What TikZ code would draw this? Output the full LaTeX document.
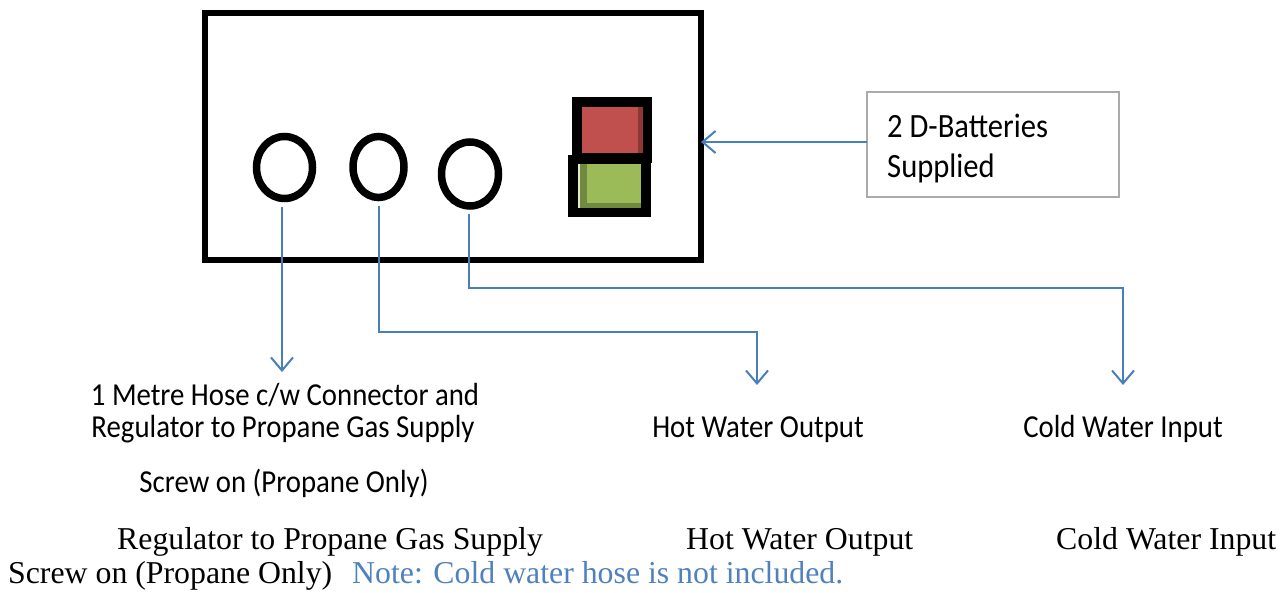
\documentclass[tikz,border=0pt]{standalone}
\usepackage{fontspec}
\newfontfamily\cali[FakeStretch=0.9]{Carlito}
\newfontfamily\tnr{Liberation Serif}
\usetikzlibrary{shapes.geometric,arrows.meta}
\definecolor{lineblue}{RGB}{74,126,187}
\definecolor{noteblue}{RGB}{79,129,189}
\definecolor{swred}{RGB}{192,80,77}
\definecolor{swreddark}{RGB}{140,56,54}
\definecolor{swgreen}{RGB}{155,187,89}
\definecolor{swgreendark}{RGB}{113,137,63}
\definecolor{boxgray}{RGB}{170,170,170}
\begin{document}
\begin{tikzpicture}[x=1pt,y=-1pt,
  mainbox/.style={draw=black,line width=6pt,inner sep=0pt,outer sep=0pt},
  port/.style={ellipse,draw=black,line width=7.5pt,inner sep=0pt,outer sep=0pt},
  swbox/.style={fill=black,inner sep=0pt,outer sep=0pt},
  batbox/.style={draw=boxgray,line width=1.5pt,inner sep=0pt,outer sep=0pt},
  arr/.style={draw=lineblue,line width=2pt,line join=miter,-{Straight Barb[length=13pt,width=22pt,line width=2pt]}},
  lbl/.style={font=\cali\fontsize{32}{36}\selectfont,inner sep=0pt,anchor=base},
  battxt/.style={font=\cali\fontsize{34}{38}\selectfont,inner sep=0pt,anchor=base west},
  tnrlbl/.style={font=\tnr\fontsize{31.8}{36}\selectfont,inner sep=0pt,anchor=base west}]
\useasboundingbox (0,0) rectangle (1285,592);

% main unit
\node[mainbox,minimum width=496.5pt,minimum height=247pt] (box) at (452.75,136.5) {};
\node[port,minimum width=56pt,minimum height=62pt] (c1) at (284.5,167.5) {};
\node[port,minimum width=51pt,minimum height=61pt] (c2) at (378.5,167) {};
\node[port,minimum width=57pt,minimum height=64pt] (c3) at (470,174) {};

% switch
\node[swbox,minimum width=80pt,minimum height=66pt] (swr) at (612,130) {};
\fill[swred] (582,107) rectangle (643,153);
\fill[swreddark] (638,107) rectangle (643,153);
\node[swbox,minimum width=83pt,minimum height=62pt] (swg) at (609.5,186) {};
\fill[swgreendark] (578,164) rectangle (641,208);
\fill[swgreen] (587,164) rectangle (641,203);
\fill[white!70!swgreen] (578,164) rectangle (580,208);

% battery box
\node[batbox,minimum width=252pt,minimum height=105pt] (bat) at (993,144.5) {};
\node[battxt] (b1) at (887,137) {2 D-Batteries};
\node[battxt] (b2) at (887,177) {Supplied};
\coordinate (bt) at ([yshift=2.5pt]bat.west);
\draw[arr] (bt) -- (bt -| box.east);

% connectors
\coordinate (tip1) at (282,372);
\coordinate (k2) at (379,332);
\coordinate (tip2) at (757,385);
\coordinate (k3) at (469,288);
\coordinate (tip3) at (1123,385);
\draw[arr,shorten <=8pt] (c1.south -| tip1) -- (tip1);
\draw[arr,shorten <=8pt] (c2.south -| k2) -- (k2) -| (tip2);
\draw[arr,shorten <=8pt] (c3.south -| k3) -- (k3) -| (tip3);

% labels
\node[lbl] (g1) at (285,405) {1 Metre Hose c/w Connector and};
\node[lbl] (g2) at (283,437) {Regulator to Propane Gas Supply};
\node[lbl] (g3) at (284,492) {Screw on (Propane Only)};
\node[lbl] (hw) at (758,437) {Hot Water Output};
\node[lbl] (cw) at (1123,437) {Cold Water Input};

% bottom text
\node[tnrlbl] (r1) at (117,549) {Regulator to Propane Gas Supply};
\node[tnrlbl] (r2) at (686,549) {Hot Water Output};
\node[tnrlbl] (r3) at (1056,549) {Cold Water Input};
\node[tnrlbl] (r4) at (8,583) {Screw on (Propane Only)};
\node[tnrlbl,text=noteblue] (r5) at (352,583) {Note: Cold water hose is not included.};
\end{tikzpicture}
\end{document}
